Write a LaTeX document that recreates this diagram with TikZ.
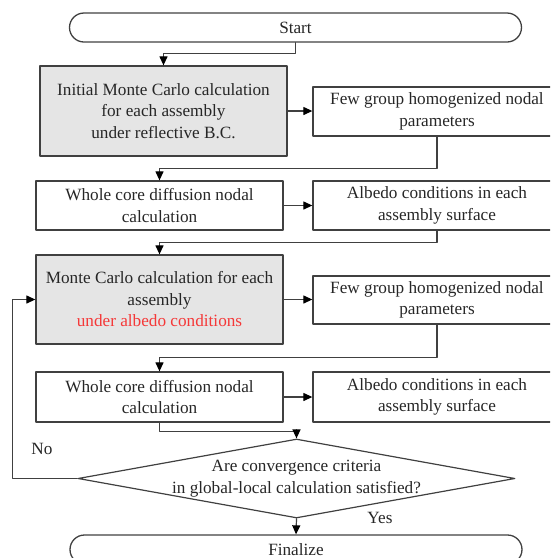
\documentclass[tikz,border=0pt]{standalone}
\usepackage{fontspec}
\setmainfont{Liberation Serif}
\usetikzlibrary{arrows.meta,shapes.geometric}
\definecolor{e6e6e6}{rgb}{0.9,0.9,0.9}
\definecolor{wwwwww}{rgb}{0.25,0.25,0.25}
\definecolor{ffzzzz}{rgb}{0.96,0.22,0.22}
\begin{document}
\begin{tikzpicture}[line cap=round,line join=round,>={Triangle[length=9pt,width=8pt,color=black]},x=1pt,y=-1pt,
    every node/.style={font=\fontsize{17.2}{21.5}\selectfont,text=black!85},
    procbox/.style={draw=wwwwww,line width=1.3pt,minimum width=247pt,minimum height=49pt,align=center,inner sep=0pt},
    graybox/.style={procbox,fill=e6e6e6,minimum height=90pt},
    termbox/.style={draw=wwwwww,line width=1.3pt,rounded corners=14.5pt,minimum width=452pt,minimum height=29pt,inner sep=0pt},
    link/.style={->,draw=wwwwww,line width=1.2pt}]
    \useasboundingbox (0,0) rectangle (550,558);
    \clip (0,0) rectangle (550,558);
    \node[termbox] (start) at (295.5,27.5) {Start};
    \node[graybox] (mcinit) at (163.5,111) {Initial Monte Carlo calculation\\for each assembly\\under reflective B.C.};
    \node[procbox,minimum width=248pt] (fgh1) at (437,111.5) {Few group homogenized nodal\\parameters};
    \node[procbox] (diff1) at (159.5,205.5) {Whole core diffusion nodal\\calculation};
    \node[procbox,minimum width=248pt] (alb1) at (437,205.5) {Albedo conditions in each\\assembly surface};
    \node[graybox,minimum height=89pt] (mcalb) at (159.5,299.5) {Monte Carlo calculation for each\\assembly\\\textcolor{ffzzzz}{under albedo conditions}};
    \node[procbox,minimum width=248pt,minimum height=48pt] (fgh2) at (437,300) {Few group homogenized nodal\\parameters};
    \node[procbox,minimum height=50pt] (diff2) at (159.5,397) {Whole core diffusion nodal\\calculation};
    \node[procbox,minimum width=248pt,minimum height=50pt] (alb2) at (437,397) {Albedo conditions in each\\assembly surface};
    \node[diamond,draw=wwwwww,line width=1.2pt,minimum width=437pt,minimum height=79pt,inner sep=0pt] (conv) at (296.5,478.5) {};
    \node[align=center] (convtext) at (conv.center) {Are convergence criteria\\in global-local calculation satisfied?};
    \node[termbox] (final) at (296,549.5) {Finalize};
    \node (no) at (42,449) {No};
    \node (yes) at (380,518) {Yes};
    \draw[link] (start.south) -- ++(0,11) -| (mcinit.north);
    \draw[link] (mcinit.east) -- (fgh1.west |- mcinit.east);
    \draw[link] (fgh1.south) -- ++(0,32) -| (diff1.north);
    \draw[link] (diff1.east) -- (alb1.west |- diff1.east);
    \draw[link] (alb1.south) -- ++(0,12) -| (mcalb.north);
    \draw[link] (mcalb.east) -- (fgh2.west |- mcalb.east);
    \draw[link] (fgh2.south) -- ++(0,33) -| (diff2.north);
    \draw[link] (diff2.east) -- (alb2.west |- diff2.east);
    \draw[link] (diff2.south) -- ++(0,9) -| (conv.north);
    \draw[link] (conv.west) -- ++(-65,0) |- (mcalb.west);
    \draw[link] (conv.south) -- (final.north);
\end{tikzpicture}
\end{document}
